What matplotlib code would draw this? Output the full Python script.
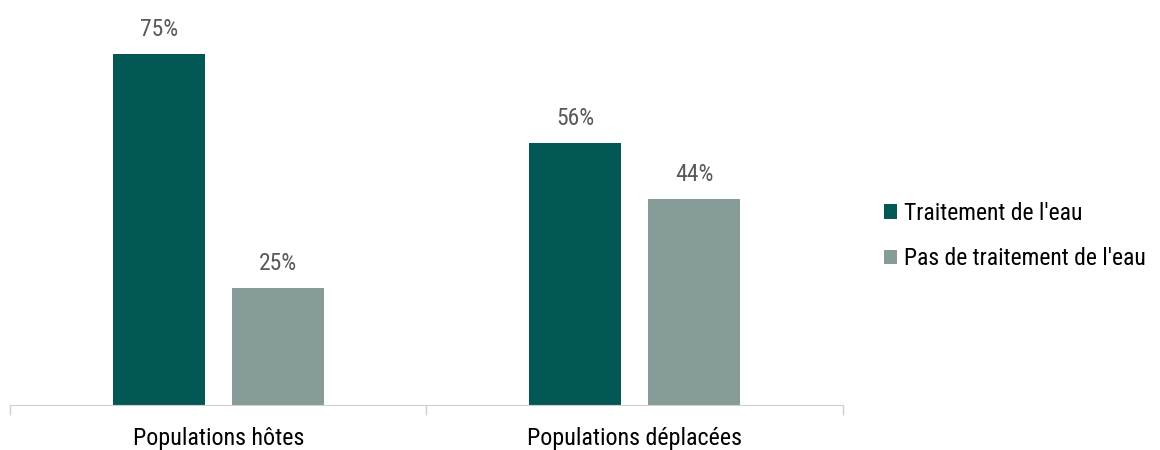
import numpy as np
import matplotlib.pyplot as plt
from matplotlib.patches import Patch

plt.rcParams['font.family'] = ['Roboto Condensed', 'Liberation Sans', 'DejaVu Sans']

categories = ['Populations hôtes', 'Populations déplacées']
series_names = ["Traitement de l'eau", "Pas de traitement de l'eau"]
treated = [75, 56]
untreated = [25, 44]

colors = ['#035856', '#869C98']

fig = plt.figure(figsize=(11.6, 4.5), dpi=100)
ax = fig.add_axes([10/1160, 0.1, 833/1160, 0.9])

x = np.arange(len(categories))
w = 0.221
off = 0.143
b1 = ax.bar(x - off, treated, w, color=colors[0])
b2 = ax.bar(x + off, untreated, w, color=colors[1])

# value labels above each bar
for bars, vals in [(b1, treated), (b2, untreated)]:
    for rect, v in zip(bars, vals):
        ax.annotate('%d%%' % v, (rect.get_x() + rect.get_width()/2, v),
                    xytext=(0, 9.5), textcoords='offset points',
                    ha='center', va='bottom', fontsize=17, color='#595959')

ax.set_xlim(-0.5, 1.5)
ax.set_ylim(0, 86.5)
ax.set_yticks([])
ax.set_xticks([-0.5, 0.5, 1.5], minor=False)
ax.set_xticklabels([])
ax.set_xticks(x, minor=True)
ax.set_xticklabels(categories, minor=True, fontsize=17.3, color='#000000')
ax.tick_params(axis='x', which='minor', length=0, pad=16)
ax.tick_params(axis='x', which='major', length=7, color='#d0d0d0', width=1)
for s in ['top', 'right', 'left']:
    ax.spines[s].set_visible(False)
ax.spines['bottom'].set_color('#d0d0d0')

handles = [Patch(facecolor=c) for c in colors]
fig.legend(handles, series_names, loc='center left', bbox_to_anchor=(865/1160, 1 - 236/450),
           frameon=False, fontsize=17, handlelength=0.55, handleheight=0.55,
           handletextpad=0.3, labelspacing=0.95, borderpad=0.3)

fig.savefig('out.png', dpi=100)
